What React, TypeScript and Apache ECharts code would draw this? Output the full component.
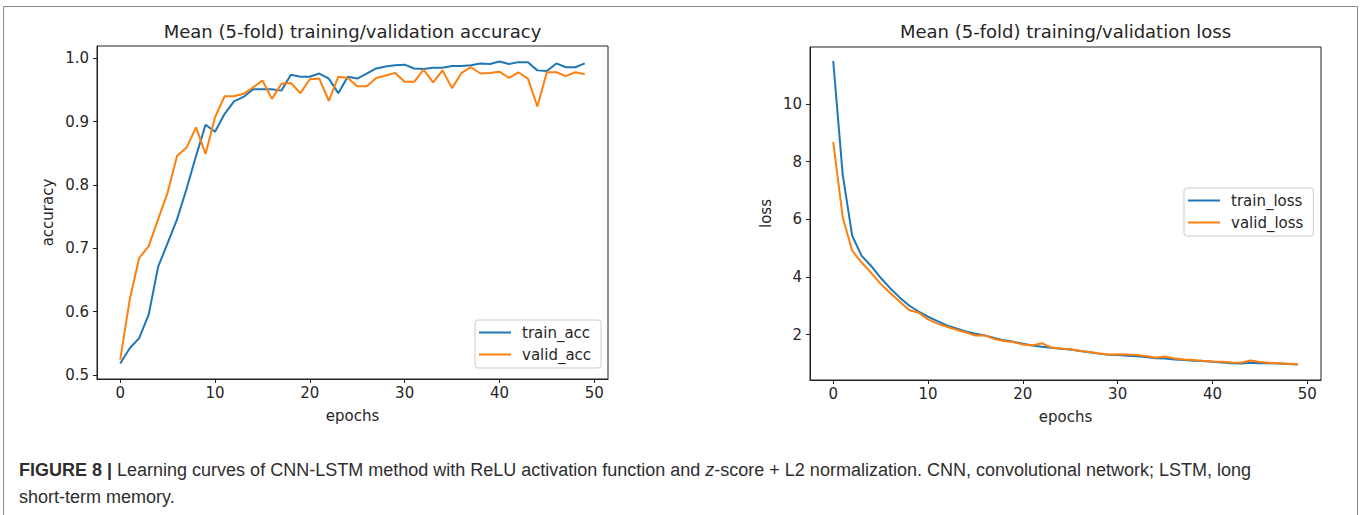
import React, { useEffect, useRef } from "react";
import * as echarts from "echarts";

const epochs = [
  0, 1, 2, 3, 4, 5, 6, 7, 8, 9, 10, 11, 12, 13, 14, 15, 16, 17, 18, 19, 20, 21, 22, 23, 24,
  25, 26, 27, 28, 29, 30, 31, 32, 33, 34, 35, 36, 37, 38, 39, 40, 41, 42, 43, 44, 45, 46, 47, 48, 49,
];

const trainAcc = [
  0.518, 0.542, 0.558, 0.595, 0.671, 0.708, 0.746, 0.794, 0.846, 0.895,
  0.884, 0.912, 0.932, 0.939, 0.951, 0.951, 0.951, 0.949, 0.974, 0.971,
  0.971, 0.976, 0.968, 0.945, 0.971, 0.968, 0.976, 0.984, 0.987, 0.989,
  0.99, 0.984, 0.983, 0.985, 0.985, 0.988, 0.988, 0.989, 0.992, 0.991,
  0.995, 0.991, 0.994, 0.994, 0.981, 0.98, 0.992, 0.986, 0.986, 0.992,
];

const validAcc = [
  0.524, 0.619, 0.685, 0.703, 0.746, 0.788, 0.846, 0.859, 0.891, 0.849,
  0.907, 0.94, 0.94, 0.944, 0.954, 0.965, 0.936, 0.96, 0.961, 0.945,
  0.967, 0.968, 0.933, 0.971, 0.969, 0.956, 0.956, 0.969, 0.973, 0.977,
  0.963, 0.963, 0.982, 0.962, 0.981, 0.953, 0.977, 0.986, 0.976, 0.977,
  0.979, 0.969, 0.978, 0.968, 0.924, 0.978, 0.978, 0.972, 0.978, 0.975,
];

const trainLoss = [
  11.49, 7.55, 5.43, 4.73, 4.38, 3.97, 3.61, 3.29, 3.01, 2.8,
  2.62, 2.47, 2.32, 2.21, 2.11, 2.03, 1.97, 1.88, 1.8, 1.75,
  1.68, 1.62, 1.58, 1.54, 1.51, 1.48, 1.43, 1.39, 1.34, 1.3,
  1.29, 1.27, 1.25, 1.22, 1.18, 1.17, 1.14, 1.12, 1.09, 1.08,
  1.06, 1.03, 1.01, 1.0, 1.02, 1.01, 1.01, 1.0, 0.98, 0.96,
];

const validLoss = [
  8.68, 6.07, 4.91, 4.5, 4.14, 3.76, 3.44, 3.15, 2.85, 2.76,
  2.53, 2.38, 2.27, 2.17, 2.07, 1.97, 1.97, 1.85, 1.78, 1.74,
  1.66, 1.62, 1.7, 1.55, 1.52, 1.49, 1.44, 1.4, 1.35, 1.31,
  1.32, 1.31, 1.29, 1.26, 1.2, 1.24, 1.17, 1.14, 1.12, 1.09,
  1.07, 1.06, 1.03, 1.02, 1.1, 1.05, 1.02, 1.01, 0.99, 0.97,
];

const xTicks = [0, 10, 20, 30, 40, 50];
const accTicks = [0.5, 0.6, 0.7, 0.8, 0.9, 1.0];
const lossTicks = [2, 4, 6, 8, 10];

const titleAcc = "Mean (5-fold) training/validation accuracy";
const titleLoss = "Mean (5-fold) training/validation loss";

const BLUE = "#1f77b4";
const ORANGE = "#ff7f0e";
const INK = "#262626";
const FONT = "DejaVu Sans";
const CAP = "#2e2e2e";

export default function App() {
  const ref = useRef<HTMLDivElement>(null);

  useEffect(() => {
    if (!ref.current) return;
    const chart = echarts.init(ref.current, undefined, { renderer: "svg" });

    const pair = (ys: number[]) => epochs.map((e, i) => [e, ys[i]]);

    const gridBase = {
      show: true,
      borderColor: "#222",
      borderWidth: 1,
      backgroundColor: "transparent",
      containLabel: false,
    };

    const xAxisBase = (gridIndex: number) => ({
      gridIndex,
      type: "value",
      min: -2.45,
      max: 51.45,
      axisLine: { show: true, onZero: false, lineStyle: { color: "#222", width: 1 } },
      splitLine: { show: false },
      axisTick: {
        show: true,
        length: 4,
        inside: false,
        customValues: xTicks,
        lineStyle: { color: "#222" },
      },
      axisLabel: {
        customValues: xTicks,
        fontSize: 15,
        color: INK,
        margin: 6,
        fontFamily: FONT,
      },
      name: "epochs",
      nameLocation: "middle",
      nameGap: 29,
      nameTextStyle: { fontSize: 15, color: INK, fontFamily: FONT },
    });

    const legendBase = {
      orient: "vertical",
      icon: "rect",
      itemWidth: 32,
      itemHeight: 2,
      itemGap: 7,
      backgroundColor: "rgba(255,255,255,0.8)",
      borderColor: "#cccccc",
      borderWidth: 1,
      borderRadius: 3,
      textStyle: {
        fontSize: 15,
        color: INK,
        fontFamily: FONT,
        padding: [0, 0, 0, 6],
      },
    };

    const lineBase = {
      type: "line",
      showSymbol: false,
      symbol: "none",
      lineStyle: { width: 2 },
      emphasis: { disabled: true },
    };

    chart.setOption({
      animation: false,
      textStyle: { fontFamily: FONT },
      grid: [
        { ...gridBase, left: 97, top: 46, width: 511, height: 333 },
        { ...gridBase, left: 810, top: 47, width: 511, height: 333 },
      ],
      xAxis: [xAxisBase(0), xAxisBase(1)],
      yAxis: [
        {
          gridIndex: 0,
          type: "value",
          min: 0.4935,
          max: 1.0195,
          axisLine: { show: true, onZero: false, lineStyle: { color: "#222", width: 1 } },
          splitLine: { show: false },
          axisTick: { show: true, length: 4, customValues: accTicks, lineStyle: { color: "#222" } },
          axisLabel: {
            customValues: accTicks,
            fontSize: 15,
            color: INK,
            margin: 8,
            fontFamily: FONT,
            formatter: (v: number) => v.toFixed(1),
          },
          name: "accuracy",
          nameLocation: "middle",
          nameGap: 42,
          nameTextStyle: { fontSize: 15, color: INK, fontFamily: FONT },
        },
        {
          gridIndex: 1,
          type: "value",
          min: 0.425,
          max: 11.975,
          axisLine: { show: true, onZero: false, lineStyle: { color: "#222", width: 1 } },
          splitLine: { show: false },
          axisTick: { show: true, length: 4, customValues: lossTicks, lineStyle: { color: "#222" } },
          axisLabel: {
            customValues: lossTicks,
            fontSize: 15,
            color: INK,
            margin: 8,
            fontFamily: FONT,
            formatter: (v: number) => String(Math.round(v)),
          },
          name: "loss",
          nameLocation: "middle",
          nameGap: 37,
          nameTextStyle: { fontSize: 15, color: INK, fontFamily: FONT },
        },
      ],
      legend: [
        {
          ...legendBase,
          data: ["train_acc", "valid_acc"],
          left: 475,
          top: 320,
          padding: [5, 10, 6, 4],
        },
        {
          ...legendBase,
          data: ["train_loss", "valid_loss"],
          left: 1184,
          top: 188,
          padding: [5, 10, 6, 4],
        },
      ],
      series: [
        { ...lineBase, name: "train_acc", xAxisIndex: 0, yAxisIndex: 0, color: BLUE, data: pair(trainAcc) },
        { ...lineBase, name: "valid_acc", xAxisIndex: 0, yAxisIndex: 0, color: ORANGE, data: pair(validAcc) },
        { ...lineBase, name: "train_loss", xAxisIndex: 1, yAxisIndex: 1, color: BLUE, data: pair(trainLoss) },
        { ...lineBase, name: "valid_loss", xAxisIndex: 1, yAxisIndex: 1, color: ORANGE, data: pair(validLoss) },
      ],
      graphic: [
        {
          type: "rect",
          silent: true,
          shape: { x: 3.5, y: 6.5, width: 1354, height: 530 },
          style: { fill: "none", stroke: "#8a8a8a", lineWidth: 1 },
        },
        {
          type: "text",
          x: 352.5,
          y: 31,
          style: {
            text: titleAcc,
            fill: INK,
            fontSize: 18,
            fontFamily: FONT,
            align: "center",
            verticalAlign: "middle",
          },
        },
        {
          type: "text",
          x: 1065.5,
          y: 31,
          style: {
            text: titleLoss,
            fill: INK,
            fontSize: 18,
            fontFamily: FONT,
            align: "center",
            verticalAlign: "middle",
          },
        },
        {
          type: "text",
          x: 19,
          y: 470,
          style: {
            text:
              "{b|FIGURE 8 |} Learning curves of CNN-LSTM method with ReLU activation function and {i|z}-score + L2 normalization. CNN, convolutional network; LSTM, long",
            fill: CAP,
            fontSize: 18,
            fontFamily: "Liberation Sans",
            verticalAlign: "middle",
            rich: {
              b: { fontWeight: "bold", fontSize: 18, fontFamily: "Liberation Sans", fill: CAP },
              i: { fontStyle: "italic", fontSize: 18, fontFamily: "Liberation Sans", fill: CAP },
            },
          },
        },
        {
          type: "text",
          x: 19,
          y: 497,
          style: {
            text: "short-term memory.",
            fill: CAP,
            fontSize: 18,
            fontFamily: "Liberation Sans",
            verticalAlign: "middle",
          },
        },
      ],
    });

    return () => chart.dispose();
  }, []);

  return (
    <div
      ref={ref}
      style={{ position: "fixed", left: 0, top: 0, width: 1363, height: 515, background: "#fff" }}
    />
  );
}
